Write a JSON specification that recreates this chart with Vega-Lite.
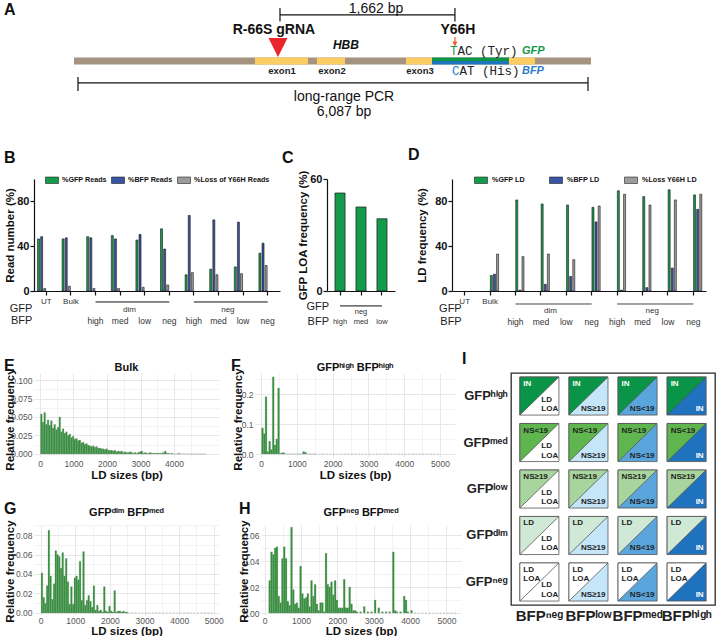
{
  "$schema": "https://vega.github.io/schema/vega-lite/v6.json",
  "background": "white",
  "padding": {"left": 3, "top": 0, "right": 0, "bottom": 0},
  "config": {
    "font": "Liberation Sans",
    "view": {"stroke": null},
    "title": {"anchor": "start", "frame": "group", "fontSize": 16, "fontWeight": "bold", "baseline": "bottom", "color": "#111"}
  },
  "datasets": {
    "gene": [
      {"part": "backbone", "bp": -48, "bp2": 6123},
      {"part": "exon", "bp": 2112, "bp2": 2745},
      {"part": "exon", "bp": 2852, "bp2": 3187},
      {"part": "exon", "bp": 3915, "bp2": 4225},
      {"part": "exon", "bp": 5144, "bp2": 5454}
    ],
    "reads": [
      {"grp": "UT", "series": "%GFP Reads", "pct": 46.5}, {"grp": "UT", "series": "%BFP Reads", "pct": 48.5}, {"grp": "UT", "series": "%Loss of Y66H Reads", "pct": 2.2},
      {"grp": "Bulk", "series": "%GFP Reads", "pct": 46.5}, {"grp": "Bulk", "series": "%BFP Reads", "pct": 47.5}, {"grp": "Bulk", "series": "%Loss of Y66H Reads", "pct": 4.3},
      {"grp": "dim-high", "series": "%GFP Reads", "pct": 48.5}, {"grp": "dim-high", "series": "%BFP Reads", "pct": 47.5}, {"grp": "dim-high", "series": "%Loss of Y66H Reads", "pct": 2.2},
      {"grp": "dim-med", "series": "%GFP Reads", "pct": 49.5}, {"grp": "dim-med", "series": "%BFP Reads", "pct": 46.5}, {"grp": "dim-med", "series": "%Loss of Y66H Reads", "pct": 2.2},
      {"grp": "dim-low", "series": "%GFP Reads", "pct": 45.5}, {"grp": "dim-low", "series": "%BFP Reads", "pct": 50.5}, {"grp": "dim-low", "series": "%Loss of Y66H Reads", "pct": 3.3},
      {"grp": "dim-neg", "series": "%GFP Reads", "pct": 55.5}, {"grp": "dim-neg", "series": "%BFP Reads", "pct": 37.5}, {"grp": "dim-neg", "series": "%Loss of Y66H Reads", "pct": 5.4},
      {"grp": "neg-high", "series": "%GFP Reads", "pct": 14.5}, {"grp": "neg-high", "series": "%BFP Reads", "pct": 67.5}, {"grp": "neg-high", "series": "%Loss of Y66H Reads", "pct": 16.4},
      {"grp": "neg-med", "series": "%GFP Reads", "pct": 19.5}, {"grp": "neg-med", "series": "%BFP Reads", "pct": 63.5}, {"grp": "neg-med", "series": "%Loss of Y66H Reads", "pct": 14.5},
      {"grp": "neg-low", "series": "%GFP Reads", "pct": 21.5}, {"grp": "neg-low", "series": "%BFP Reads", "pct": 61.5}, {"grp": "neg-low", "series": "%Loss of Y66H Reads", "pct": 15.5},
      {"grp": "neg-neg", "series": "%GFP Reads", "pct": 33.8}, {"grp": "neg-neg", "series": "%BFP Reads", "pct": 42.7}, {"grp": "neg-neg", "series": "%Loss of Y66H Reads", "pct": 22.8}
    ],
    "ld": [
      {"grp": "Bulk", "series": "%GFP LD", "pct": 13.9}, {"grp": "Bulk", "series": "%BFP LD", "pct": 15}, {"grp": "Bulk", "series": "%Loss Y66H LD", "pct": 33},
      {"grp": "dim-high", "series": "%GFP LD", "pct": 81.3}, {"grp": "dim-high", "series": "%BFP LD", "pct": 0.8}, {"grp": "dim-high", "series": "%Loss Y66H LD", "pct": 30.7},
      {"grp": "dim-med", "series": "%GFP LD", "pct": 77.7}, {"grp": "dim-med", "series": "%BFP LD", "pct": 6}, {"grp": "dim-med", "series": "%Loss Y66H LD", "pct": 33},
      {"grp": "dim-low", "series": "%GFP LD", "pct": 76.8}, {"grp": "dim-low", "series": "%BFP LD", "pct": 13}, {"grp": "dim-low", "series": "%Loss Y66H LD", "pct": 28},
      {"grp": "dim-neg", "series": "%GFP LD", "pct": 74.7}, {"grp": "dim-neg", "series": "%BFP LD", "pct": 61.7}, {"grp": "dim-neg", "series": "%Loss Y66H LD", "pct": 75.9},
      {"grp": "neg-high", "series": "%GFP LD", "pct": 89.5}, {"grp": "neg-high", "series": "%BFP LD", "pct": 0.8}, {"grp": "neg-high", "series": "%Loss Y66H LD", "pct": 86.4},
      {"grp": "neg-med", "series": "%GFP LD", "pct": 84.3}, {"grp": "neg-med", "series": "%BFP LD", "pct": 3}, {"grp": "neg-med", "series": "%Loss Y66H LD", "pct": 76.8},
      {"grp": "neg-low", "series": "%GFP LD", "pct": 90.4}, {"grp": "neg-low", "series": "%BFP LD", "pct": 20.5}, {"grp": "neg-low", "series": "%Loss Y66H LD", "pct": 81.3},
      {"grp": "neg-neg", "series": "%GFP LD", "pct": 85.8}, {"grp": "neg-neg", "series": "%BFP LD", "pct": 72.9}, {"grp": "neg-neg", "series": "%Loss Y66H LD", "pct": 86.4}
    ],
    "loa": [
      {"bfp": "high", "pct": 52.5}, {"bfp": "med", "pct": 45}, {"bfp": "low", "pct": 38.7}
    ],
    "bfpRow": [
      {"grp": "dim-high", "t": "high"}, {"grp": "dim-med", "t": "med"}, {"grp": "dim-low", "t": "low"}, {"grp": "dim-neg", "t": "neg"},
      {"grp": "neg-high", "t": "high"}, {"grp": "neg-med", "t": "med"}, {"grp": "neg-low", "t": "low"}, {"grp": "neg-neg", "t": "neg"}
    ],
    "gfpSpan": [
      {"a": "dim-high", "b": "dim-neg"}, {"a": "neg-high", "b": "neg-neg"}
    ],
    "gfpName": [
      {"grp": "dim-med", "t": "dim"}, {"grp": "neg-med", "t": "neg"}
    ],
    "bulk": [
      {"bp": 0, "f": 0.054}, {"bp": 50, "f": 0.043}, {"bp": 100, "f": 0.056}, {"bp": 150, "f": 0.040}, {"bp": 200, "f": 0.046},
      {"bp": 250, "f": 0.039}, {"bp": 300, "f": 0.045}, {"bp": 350, "f": 0.035}, {"bp": 400, "f": 0.040}, {"bp": 450, "f": 0.033},
      {"bp": 500, "f": 0.036}, {"bp": 550, "f": 0.050}, {"bp": 600, "f": 0.030}, {"bp": 650, "f": 0.034}, {"bp": 700, "f": 0.028},
      {"bp": 750, "f": 0.030}, {"bp": 800, "f": 0.025}, {"bp": 850, "f": 0.027}, {"bp": 900, "f": 0.022}, {"bp": 950, "f": 0.024},
      {"bp": 1000, "f": 0.020}, {"bp": 1050, "f": 0.021}, {"bp": 1100, "f": 0.018}, {"bp": 1150, "f": 0.019}, {"bp": 1200, "f": 0.015},
      {"bp": 1250, "f": 0.016}, {"bp": 1300, "f": 0.013}, {"bp": 1350, "f": 0.014}, {"bp": 1400, "f": 0.012}, {"bp": 1450, "f": 0.011},
      {"bp": 1500, "f": 0.010}, {"bp": 1550, "f": 0.011}, {"bp": 1600, "f": 0.009}, {"bp": 1650, "f": 0.010}, {"bp": 1700, "f": 0.008},
      {"bp": 1750, "f": 0.008}, {"bp": 1800, "f": 0.007}, {"bp": 1850, "f": 0.007}, {"bp": 1900, "f": 0.006}, {"bp": 1950, "f": 0.007},
      {"bp": 2000, "f": 0.005}, {"bp": 2050, "f": 0.005}, {"bp": 2100, "f": 0.005}, {"bp": 2150, "f": 0.004}, {"bp": 2200, "f": 0.005},
      {"bp": 2250, "f": 0.003}, {"bp": 2300, "f": 0.004}, {"bp": 2350, "f": 0.003}, {"bp": 2400, "f": 0.004}, {"bp": 2450, "f": 0.002},
      {"bp": 2500, "f": 0.003}, {"bp": 2550, "f": 0.002}, {"bp": 2600, "f": 0.002}, {"bp": 2650, "f": 0.003}, {"bp": 2700, "f": 0.002},
      {"bp": 2750, "f": 0.001}, {"bp": 2800, "f": 0.002}, {"bp": 2850, "f": 0.001}, {"bp": 2900, "f": 0.002}, {"bp": 2950, "f": 0.003},
      {"bp": 3000, "f": 0.004}, {"bp": 3050, "f": 0.001}, {"bp": 3100, "f": 0.002}, {"bp": 3150, "f": 0.001}, {"bp": 3200, "f": 0.001},
      {"bp": 3250, "f": 0.002}, {"bp": 3300, "f": 0.001}, {"bp": 3350, "f": 0.001}, {"bp": 3400, "f": 0.001}, {"bp": 3450, "f": 0.001},
      {"bp": 3500, "f": 0.001}, {"bp": 3550, "f": 0.001}, {"bp": 3600, "f": 0.001}, {"bp": 3650, "f": 0.002}, {"bp": 3700, "f": 0.004},
      {"bp": 3750, "f": 0.001}, {"bp": 3800, "f": 0.001}, {"bp": 3850, "f": 0}, {"bp": 3900, "f": 0.001}, {"bp": 3950, "f": 0},
      {"bp": 4000, "f": 0}, {"bp": 4050, "f": 0}, {"bp": 4100, "f": 0.001}, {"bp": 4150, "f": 0}, {"bp": 4200, "f": 0},
      {"bp": 4250, "f": 0}, {"bp": 4300, "f": 0}, {"bp": 4350, "f": 0}, {"bp": 4400, "f": 0}, {"bp": 4450, "f": 0},
      {"bp": 4500, "f": 0}, {"bp": 4550, "f": 0}, {"bp": 4600, "f": 0}, {"bp": 4650, "f": 0}, {"bp": 4700, "f": 0},
      {"bp": 4750, "f": 0}, {"bp": 4800, "f": 0}, {"bp": 4850, "f": 0}, {"bp": 4900, "f": 0}
    ],
    "hh": [
      {"bp": 0, "f": 0.087}, {"bp": 50, "f": 0.068}, {"bp": 100, "f": 0.191}, {"bp": 150, "f": 0.008}, {"bp": 200, "f": 0.043},
      {"bp": 250, "f": 0.015}, {"bp": 300, "f": 0.257}, {"bp": 350, "f": 0.030}, {"bp": 400, "f": 0.050}, {"bp": 450, "f": 0.220},
      {"bp": 500, "f": 0.002}, {"bp": 550, "f": 0.004}, {"bp": 600, "f": 0.004}, {"bp": 650, "f": 0}, {"bp": 700, "f": 0},
      {"bp": 750, "f": 0}, {"bp": 800, "f": 0}, {"bp": 850, "f": 0}, {"bp": 900, "f": 0}, {"bp": 950, "f": 0},
      {"bp": 1000, "f": 0}, {"bp": 1050, "f": 0}, {"bp": 1100, "f": 0}, {"bp": 1150, "f": 0.008}, {"bp": 1200, "f": 0.006},
      {"bp": 1250, "f": 0}, {"bp": 1300, "f": 0}, {"bp": 1350, "f": 0}, {"bp": 1400, "f": 0}, {"bp": 1450, "f": 0},
      {"bp": 1500, "f": 0}, {"bp": 1600, "f": 0}, {"bp": 1700, "f": 0}, {"bp": 1800, "f": 0}, {"bp": 1900, "f": 0},
      {"bp": 2000, "f": 0}, {"bp": 2100, "f": 0}, {"bp": 2200, "f": 0}, {"bp": 2300, "f": 0}, {"bp": 2400, "f": 0},
      {"bp": 2500, "f": 0}, {"bp": 2600, "f": 0}, {"bp": 2700, "f": 0}, {"bp": 2800, "f": 0}, {"bp": 2900, "f": 0},
      {"bp": 3000, "f": 0}, {"bp": 3100, "f": 0}, {"bp": 3200, "f": 0}, {"bp": 3300, "f": 0}, {"bp": 3400, "f": 0},
      {"bp": 3500, "f": 0}, {"bp": 3600, "f": 0}, {"bp": 3700, "f": 0}, {"bp": 3800, "f": 0}, {"bp": 3900, "f": 0},
      {"bp": 4000, "f": 0}, {"bp": 4100, "f": 0}, {"bp": 4200, "f": 0}, {"bp": 4300, "f": 0}, {"bp": 4400, "f": 0},
      {"bp": 4500, "f": 0}, {"bp": 4600, "f": 0}, {"bp": 4700, "f": 0}, {"bp": 4800, "f": 0}, {"bp": 4900, "f": 0}
    ],
    "dm": [
      {"bp": 0, "f": 0.041}, {"bp": 50, "f": 0.016}, {"bp": 100, "f": 0.010}, {"bp": 150, "f": 0.028}, {"bp": 200, "f": 0.085},
      {"bp": 250, "f": 0.038}, {"bp": 300, "f": 0.014}, {"bp": 350, "f": 0.030}, {"bp": 400, "f": 0.064}, {"bp": 450, "f": 0.060},
      {"bp": 500, "f": 0.058}, {"bp": 550, "f": 0.046}, {"bp": 600, "f": 0.062}, {"bp": 650, "f": 0.038}, {"bp": 700, "f": 0.056},
      {"bp": 750, "f": 0.032}, {"bp": 800, "f": 0.009}, {"bp": 850, "f": 0.027}, {"bp": 900, "f": 0.009}, {"bp": 950, "f": 0.036},
      {"bp": 1000, "f": 0.038}, {"bp": 1050, "f": 0.034}, {"bp": 1100, "f": 0.053}, {"bp": 1150, "f": 0.013}, {"bp": 1200, "f": 0.063},
      {"bp": 1250, "f": 0.008}, {"bp": 1300, "f": 0.013}, {"bp": 1350, "f": 0.018}, {"bp": 1400, "f": 0.012}, {"bp": 1450, "f": 0.006},
      {"bp": 1500, "f": 0.028}, {"bp": 1550, "f": 0.003}, {"bp": 1600, "f": 0.008}, {"bp": 1650, "f": 0.002}, {"bp": 1700, "f": 0.003},
      {"bp": 1750, "f": 0.001}, {"bp": 1800, "f": 0.027}, {"bp": 1850, "f": 0.002}, {"bp": 1900, "f": 0.001}, {"bp": 1950, "f": 0.007},
      {"bp": 2000, "f": 0.002}, {"bp": 2050, "f": 0.001}, {"bp": 2100, "f": 0.023}, {"bp": 2150, "f": 0.001}, {"bp": 2200, "f": 0.002},
      {"bp": 2250, "f": 0.002}, {"bp": 2300, "f": 0.001}, {"bp": 2350, "f": 0.002}, {"bp": 2400, "f": 0.001}, {"bp": 2450, "f": 0.001},
      {"bp": 2500, "f": 0}, {"bp": 2600, "f": 0}, {"bp": 2700, "f": 0}, {"bp": 2800, "f": 0}, {"bp": 2900, "f": 0},
      {"bp": 3000, "f": 0}, {"bp": 3100, "f": 0}, {"bp": 3200, "f": 0}, {"bp": 3300, "f": 0}, {"bp": 3400, "f": 0},
      {"bp": 3500, "f": 0}, {"bp": 3600, "f": 0}, {"bp": 3700, "f": 0}, {"bp": 3800, "f": 0}, {"bp": 3900, "f": 0},
      {"bp": 4000, "f": 0}, {"bp": 4100, "f": 0}, {"bp": 4200, "f": 0}, {"bp": 4300, "f": 0}, {"bp": 4400, "f": 0},
      {"bp": 4500, "f": 0}, {"bp": 4600, "f": 0}, {"bp": 4700, "f": 0}, {"bp": 4800, "f": 0}, {"bp": 4900, "f": 0}
    ],
    "nm": [
      {"bp": 100, "f": 0.025}, {"bp": 150, "f": 0.047}, {"bp": 200, "f": 0.045}, {"bp": 250, "f": 0.050}, {"bp": 300, "f": 0.051},
      {"bp": 350, "f": 0.013}, {"bp": 400, "f": 0.008}, {"bp": 450, "f": 0.042}, {"bp": 500, "f": 0.051}, {"bp": 550, "f": 0.042},
      {"bp": 600, "f": 0.009}, {"bp": 650, "f": 0.006}, {"bp": 700, "f": 0.066}, {"bp": 750, "f": 0.018}, {"bp": 800, "f": 0.007},
      {"bp": 850, "f": 0.008}, {"bp": 900, "f": 0.004}, {"bp": 950, "f": 0.036}, {"bp": 1000, "f": 0.015}, {"bp": 1050, "f": 0.011},
      {"bp": 1100, "f": 0.012}, {"bp": 1150, "f": 0.015}, {"bp": 1200, "f": 0.005}, {"bp": 1250, "f": 0.025}, {"bp": 1300, "f": 0.013},
      {"bp": 1350, "f": 0.022}, {"bp": 1400, "f": 0.007}, {"bp": 1450, "f": 0.002}, {"bp": 1500, "f": 0.008}, {"bp": 1550, "f": 0.008},
      {"bp": 1600, "f": 0.001}, {"bp": 1650, "f": 0.046}, {"bp": 1700, "f": 0.022}, {"bp": 1750, "f": 0.020}, {"bp": 1800, "f": 0.024},
      {"bp": 1850, "f": 0.014}, {"bp": 1900, "f": 0.025}, {"bp": 1950, "f": 0.010}, {"bp": 2000, "f": 0.004}, {"bp": 2050, "f": 0.004},
      {"bp": 2100, "f": 0.004}, {"bp": 2150, "f": 0.026}, {"bp": 2200, "f": 0.004}, {"bp": 2250, "f": 0.004}, {"bp": 2300, "f": 0.020},
      {"bp": 2350, "f": 0.007}, {"bp": 2400, "f": 0.002}, {"bp": 2450, "f": 0.002}, {"bp": 2500, "f": 0.001}, {"bp": 2600, "f": 0.001},
      {"bp": 2700, "f": 0.005}, {"bp": 2800, "f": 0.001}, {"bp": 2900, "f": 0.001}, {"bp": 3000, "f": 0.010}, {"bp": 3100, "f": 0.004},
      {"bp": 3200, "f": 0.001}, {"bp": 3300, "f": 0.001}, {"bp": 3400, "f": 0.001}, {"bp": 3500, "f": 0.047}, {"bp": 3550, "f": 0.002},
      {"bp": 3600, "f": 0.001}, {"bp": 3700, "f": 0.001}, {"bp": 3800, "f": 0.013}, {"bp": 3850, "f": 0.010}, {"bp": 3900, "f": 0.001},
      {"bp": 4000, "f": 0.002}, {"bp": 4100, "f": 0}, {"bp": 4200, "f": 0}, {"bp": 4300, "f": 0}, {"bp": 4400, "f": 0},
      {"bp": 4500, "f": 0}, {"bp": 4600, "f": 0}, {"bp": 4700, "f": 0}, {"bp": 4800, "f": 0}, {"bp": 4900, "f": 0},
      {"bp": 5000, "f": 0}, {"bp": 5100, "f": 0}, {"bp": 5200, "f": 0}
    ],
    "grid": [
      {"row": "GFPʰⁱᵍʰ", "col": "BFPⁿᵉᵍ", "tl": "IN", "br": "LD\nLOA"},
      {"row": "GFPʰⁱᵍʰ", "col": "BFPˡᵒʷ", "tl": "IN", "br": "NS≥19"},
      {"row": "GFPʰⁱᵍʰ", "col": "BFPᵐᵉᵈ", "tl": "IN", "br": "NS<19"},
      {"row": "GFPʰⁱᵍʰ", "col": "BFPʰⁱᵍʰ", "tl": "IN", "br": "IN"},
      {"row": "GFPᵐᵉᵈ", "col": "BFPⁿᵉᵍ", "tl": "NS<19", "br": "LD\nLOA"},
      {"row": "GFPᵐᵉᵈ", "col": "BFPˡᵒʷ", "tl": "NS<19", "br": "NS≥19"},
      {"row": "GFPᵐᵉᵈ", "col": "BFPᵐᵉᵈ", "tl": "NS<19", "br": "NS<19"},
      {"row": "GFPᵐᵉᵈ", "col": "BFPʰⁱᵍʰ", "tl": "NS<19", "br": "IN"},
      {"row": "GFPˡᵒʷ", "col": "BFPⁿᵉᵍ", "tl": "NS≥19", "br": "LD\nLOA"},
      {"row": "GFPˡᵒʷ", "col": "BFPˡᵒʷ", "tl": "NS≥19", "br": "NS≥19"},
      {"row": "GFPˡᵒʷ", "col": "BFPᵐᵉᵈ", "tl": "NS≥19", "br": "NS<19"},
      {"row": "GFPˡᵒʷ", "col": "BFPʰⁱᵍʰ", "tl": "NS≥19", "br": "IN"},
      {"row": "GFPᵈⁱᵐ", "col": "BFPⁿᵉᵍ", "tl": "LD", "br": "LD\nLOA"},
      {"row": "GFPᵈⁱᵐ", "col": "BFPˡᵒʷ", "tl": "LD", "br": "NS≥19"},
      {"row": "GFPᵈⁱᵐ", "col": "BFPᵐᵉᵈ", "tl": "LD", "br": "NS<19"},
      {"row": "GFPᵈⁱᵐ", "col": "BFPʰⁱᵍʰ", "tl": "LD", "br": "IN"},
      {"row": "GFPⁿᵉᵍ", "col": "BFPⁿᵉᵍ", "tl": "LD\nLOA", "br": "LD\nLOA"},
      {"row": "GFPⁿᵉᵍ", "col": "BFPˡᵒʷ", "tl": "LD\nLOA", "br": "NS≥19"},
      {"row": "GFPⁿᵉᵍ", "col": "BFPᵐᵉᵈ", "tl": "LD\nLOA", "br": "NS<19"},
      {"row": "GFPⁿᵉᵍ", "col": "BFPʰⁱᵍʰ", "tl": "LD\nLOA", "br": "IN"}
    ]
  },
  "resolve": {"scale": {"color": "independent", "fill": "independent"}},
  "spacing": 22,
  "vconcat": [
    {
      "resolve": {"scale": {"color": "independent", "fill": "independent"}},
      "spacing": 25,
      "vconcat": [
        {
          "width": 557,
          "height": 122,
          "title": {"text": "A", "dx": -30, "offset": -18},
          "layer": [
            {
              "data": {"name": "gene"},
              "mark": {"type": "rect"},
              "encoding": {
                "x": {"field": "bp", "type": "quantitative", "scale": {"domain": [-525, 6123], "nice": false, "zero": false}, "axis": null},
                "x2": {"field": "bp2"},
                "y": {"datum": 0.19, "type": "quantitative", "scale": {"domain": [-3.389, 3.389], "nice": false, "zero": false}, "axis": null},
                "y2": {"datum": -0.19},
                "color": {"field": "part", "type": "nominal", "scale": {"domain": ["backbone", "exon"], "range": ["#a39380", "#fccd63"]}, "legend": null}
              }
            },
            {
              "data": {"values": [{"bp": 4225, "bp2": 5144}]},
              "mark": {"type": "rect", "color": "#0d9448"},
              "encoding": {
                "x": {"field": "bp", "type": "quantitative"},
                "x2": {"field": "bp2"},
                "y": {"datum": 0.19, "type": "quantitative"},
                "y2": {"datum": 0}
              }
            },
            {
              "data": {"values": [{"bp": 4225, "bp2": 5144}]},
              "mark": {"type": "rect", "color": "#1d75bc"},
              "encoding": {
                "x": {"field": "bp", "type": "quantitative"},
                "x2": {"field": "bp2"},
                "y": {"datum": 0, "type": "quantitative"},
                "y2": {"datum": -0.19}
              }
            },
            {
              "data": {"values": [{"bp": 2411, "bp2": 4499, "lane": 2.56}, {"bp": 0, "bp2": 6087, "lane": -1.22}]},
              "mark": {"type": "rule", "color": "#111", "strokeWidth": 1.2},
              "encoding": {
                "x": {"field": "bp", "type": "quantitative"},
                "x2": {"field": "bp2"},
                "y": {"field": "lane", "type": "quantitative"}
              }
            },
            {
              "data": {"values": [
                {"bp": 2411, "lane": 2.94, "lane2": 2.2}, {"bp": 4499, "lane": 2.94, "lane2": 2.2},
                {"bp": 0, "lane": -0.89, "lane2": -1.67}, {"bp": 6087, "lane": -0.89, "lane2": -1.67}
              ]},
              "mark": {"type": "rule", "color": "#111", "strokeWidth": 1.2},
              "encoding": {
                "x": {"field": "bp", "type": "quantitative"},
                "y": {"field": "lane", "type": "quantitative"},
                "y2": {"field": "lane2"}
              }
            },
            {
              "data": {"values": [{"bp": 2387, "lane": 0.75}]},
              "mark": {"type": "point", "shape": "M-1,-1L1,-1L0,1Z", "size": 361, "filled": true, "color": "#e8262b", "opacity": 1},
              "encoding": {
                "x": {"field": "bp", "type": "quantitative"},
                "y": {"field": "lane", "type": "quantitative"}
              }
            },
            {
              "data": {"values": [{"bp": 4499, "lane": 1.33, "lane2": 1.0}]},
              "mark": {"type": "rule", "color": "#f05a28", "strokeWidth": 1.2},
              "encoding": {
                "x": {"field": "bp", "type": "quantitative"},
                "y": {"field": "lane", "type": "quantitative"},
                "y2": {"field": "lane2"}
              }
            },
            {
              "data": {"values": [{"bp": 4499, "lane": 0.94}]},
              "mark": {"type": "point", "shape": "M-1,-1L1,-1L0,1Z", "size": 25, "filled": true, "color": "#f05a28", "opacity": 1},
              "encoding": {
                "x": {"field": "bp", "type": "quantitative"},
                "y": {"field": "lane", "type": "quantitative"}
              }
            },
            {
              "data": {"values": [{"label": "1,662 bp", "bp": 3557, "lane": 2.9}, {"label": "long-range PCR", "bp": 3175, "lane": -2.0}, {"label": "6,087 bp", "bp": 3175, "lane": -2.83}]},
              "mark": {"type": "text", "fontSize": 14, "baseline": "middle", "color": "#111"},
              "encoding": {
                "x": {"field": "bp", "type": "quantitative"},
                "y": {"field": "lane", "type": "quantitative"},
                "text": {"field": "label"}
              }
            },
            {
              "data": {"values": [{"label": "R-66S gRNA", "bp": 2339, "lane": 1.72}, {"label": "Y66H", "bp": 4535, "lane": 1.72}]},
              "mark": {"type": "text", "fontSize": 14, "fontWeight": "bold", "baseline": "middle", "color": "#111"},
              "encoding": {
                "x": {"field": "bp", "type": "quantitative"},
                "y": {"field": "lane", "type": "quantitative"},
                "text": {"field": "label"}
              }
            },
            {
              "data": {"values": [{"label": "HBB", "bp": 3198, "lane": 0.89}]},
              "mark": {"type": "text", "fontSize": 12, "fontWeight": "bold", "fontStyle": "italic", "baseline": "middle", "color": "#111"},
              "encoding": {
                "x": {"field": "bp", "type": "quantitative"},
                "y": {"field": "lane", "type": "quantitative"},
                "text": {"field": "label"}
              }
            },
            {
              "data": {"values": [{"label": "exon1", "bp": 2435, "lane": -0.56}, {"label": "exon2", "bp": 3031, "lane": -0.56}, {"label": "exon3", "bp": 4082, "lane": -0.56}]},
              "mark": {"type": "text", "fontSize": 9.5, "fontWeight": "bold", "baseline": "middle", "color": "#222"},
              "encoding": {
                "x": {"field": "bp", "type": "quantitative"},
                "y": {"field": "lane", "type": "quantitative"},
                "text": {"field": "label"}
              }
            },
            {
              "data": {"values": [{"label": "AC (Tyr)", "bp": 4440, "lane": 0.56}, {"label": "AT (His)", "bp": 4464, "lane": -0.56}]},
              "mark": {"type": "text", "font": "Liberation Mono", "fontSize": 12.5, "align": "left", "baseline": "middle", "color": "#222", "dx": 7.5},
              "encoding": {
                "x": {"field": "bp", "type": "quantitative"},
                "y": {"field": "lane", "type": "quantitative"},
                "text": {"field": "label"}
              }
            },
            {
              "data": {"values": [{"label": "T", "bp": 4440, "lane": 0.56}]},
              "mark": {"type": "text", "font": "Liberation Mono", "fontSize": 12.5, "align": "left", "baseline": "middle", "color": "#1a9850"},
              "encoding": {
                "x": {"field": "bp", "type": "quantitative"},
                "y": {"field": "lane", "type": "quantitative"},
                "text": {"field": "label"}
              }
            },
            {
              "data": {"values": [{"label": "C", "bp": 4464, "lane": -0.56}]},
              "mark": {"type": "text", "font": "Liberation Mono", "fontSize": 12.5, "align": "left", "baseline": "middle", "color": "#2b7ccb"},
              "encoding": {
                "x": {"field": "bp", "type": "quantitative"},
                "y": {"field": "lane", "type": "quantitative"},
                "text": {"field": "label"}
              }
            },
            {
              "data": {"values": [{"label": "GFP", "bp": 5299, "lane": 0.56}]},
              "mark": {"type": "text", "fontSize": 11, "fontWeight": "bold", "fontStyle": "italic", "align": "left", "baseline": "middle", "color": "#12964a"},
              "encoding": {
                "x": {"field": "bp", "type": "quantitative"},
                "y": {"field": "lane", "type": "quantitative"},
                "text": {"field": "label"}
              }
            },
            {
              "data": {"values": [{"label": "BFP", "bp": 5299, "lane": -0.56}]},
              "mark": {"type": "text", "fontSize": 11, "fontWeight": "bold", "fontStyle": "italic", "align": "left", "baseline": "middle", "color": "#2b7ccb"},
              "encoding": {
                "x": {"field": "bp", "type": "quantitative"},
                "y": {"field": "lane", "type": "quantitative"},
                "text": {"field": "label"}
              }
            }
          ]
        },
        {
          "resolve": {"scale": {"color": "independent", "fill": "independent"}},
          "spacing": 13,
          "hconcat": [
            {
              "resolve": {"scale": {"color": "independent", "fill": "independent"}},
              "spacing": 2,
              "hconcat": [
                {
                  "width": 246,
                  "height": 112,
                  "title": {"text": "B", "dx": -30, "offset": 7},
                  "layer": [
                    {
                      "data": {"name": "reads"},
                      "mark": {"type": "bar", "stroke": "#1a1a1a", "strokeWidth": 0.6},
                      "encoding": {
                        "x": {"field": "grp", "type": "nominal", "sort": null,
                              "scale": {"domain": ["UT", "Bulk", "dim-high", "dim-med", "dim-low", "dim-neg", "neg-high", "neg-med", "neg-low", "neg-neg"], "paddingInner": 0.24, "paddingOuter": 0.12},
                              "axis": {"title": null, "labelExpr": "datum.value == 'UT' || datum.value == 'Bulk' ? datum.value : ''", "labelAngle": 0, "labelFontSize": 8, "labelColor": "#333", "labelPadding": 2, "tickSize": 4, "tickWidth": 1.2, "tickColor": "#111", "domainColor": "#111", "domainWidth": 1.2}},
                        "xOffset": {"field": "series", "type": "nominal", "sort": null, "scale": {"domain": ["%GFP Reads", "%BFP Reads", "%Loss of Y66H Reads"], "paddingInner": 0.355, "paddingOuter": 0.18}},
                        "y": {"field": "pct", "type": "quantitative", "scale": {"domain": [0, 100], "nice": false},
                              "axis": {"values": [0, 20, 40, 60, 80, 100], "title": "Read number (%)", "titleX": -24, "titleY": 56, "titleBaseline": "middle", "titleFontSize": 11.5, "titleFontWeight": "bold", "titleColor": "#111", "labelFontSize": 11, "labelFontWeight": "bold", "labelColor": "#111", "labelPadding": 1, "tickSize": 4, "tickWidth": 1.2, "tickColor": "#111", "domainColor": "#111", "domainWidth": 1.2, "grid": false}},
                        "color": {"field": "series", "type": "nominal", "scale": {"domain": ["%GFP Reads", "%BFP Reads", "%Loss of Y66H Reads"], "range": ["#139a4a", "#3a53a4", "#9c9c9c"]},
                                  "legend": {"orient": "none", "legendX": 11, "legendY": -6, "direction": "horizontal", "title": null, "labelFontSize": 7.2, "labelFontWeight": "bold", "labelColor": "#111", "symbolType": "M-1,-0.5H1V0.5H-1Z", "symbolSize": 169, "symbolStrokeColor": "#222", "symbolStrokeWidth": 0.6, "columnPadding": 3, "labelOffset": 3, "padding": 0}}
                      }
                    },
                    {
                      "data": {"name": "bfpRow"},
                      "mark": {"type": "text", "fontSize": 8.5, "baseline": "middle", "color": "#333"},
                      "encoding": {"x": {"field": "grp", "type": "nominal"}, "y": {"datum": -26.8}, "text": {"field": "t"}}
                    },
                    {
                      "data": {"name": "gfpSpan"},
                      "mark": {"type": "rule", "color": "#111", "strokeWidth": 1},
                      "encoding": {"x": {"field": "a", "type": "nominal"}, "x2": {"field": "b"}, "y": {"datum": -9.8}}
                    },
                    {
                      "data": {"name": "gfpName"},
                      "mark": {"type": "text", "fontSize": 8, "baseline": "middle", "color": "#333"},
                      "encoding": {"x": {"field": "grp", "type": "nominal", "bandPosition": 1}, "y": {"datum": -17}, "text": {"field": "t"}}
                    },
                    {
                      "data": {"values": [{"t": "GFP"}]},
                      "mark": {"type": "text", "fontSize": 11, "align": "right", "baseline": "middle", "color": "#222", "dx": -14},
                      "encoding": {"x": {"datum": "UT"}, "y": {"datum": -16}, "text": {"field": "t"}}
                    },
                    {
                      "data": {"values": [{"t": "BFP"}]},
                      "mark": {"type": "text", "fontSize": 11, "align": "right", "baseline": "middle", "color": "#222", "dx": -14},
                      "encoding": {"x": {"datum": "UT"}, "y": {"datum": -27}, "text": {"field": "t"}}
                    }
                  ]
                },
                {
                  "width": 68,
                  "height": 112,
                  "title": {"text": "C", "dx": -45, "offset": 3.4},
                  "layer": [
                    {
                      "data": {"name": "loa"},
                      "mark": {"type": "bar", "color": "#139a4a", "stroke": "#1a1a1a", "strokeWidth": 0.7},
                      "encoding": {
                        "x": {"field": "bfp", "type": "nominal", "sort": null, "scale": {"domain": ["high", "med", "low"], "paddingInner": 0.52, "paddingOuter": 0.38},
                              "axis": {"title": null, "labels": false, "tickSize": 4, "tickWidth": 1.2, "tickColor": "#111", "domainColor": "#111", "domainWidth": 1.2}},
                        "y": {"field": "pct", "type": "quantitative", "scale": {"domain": [0, 60], "nice": false},
                              "axis": {"values": [0, 20, 40, 60], "title": "GFP LOA frequency (%)", "titleX": -24, "titleY": 56, "titleBaseline": "middle", "titleFontSize": 11.5, "titleFontWeight": "bold", "titleColor": "#111", "labelFontSize": 11, "labelFontWeight": "bold", "labelColor": "#111", "labelPadding": 1, "tickSize": 4, "tickWidth": 1.2, "tickColor": "#111", "domainColor": "#111", "domainWidth": 1.2, "grid": false}}
                      }
                    },
                    {
                      "data": {"name": "loa"},
                      "mark": {"type": "text", "fontSize": 7.5, "baseline": "middle", "color": "#333"},
                      "encoding": {"x": {"field": "bfp", "type": "nominal"}, "y": {"datum": -16.6}, "text": {"field": "bfp"}}
                    },
                    {
                      "data": {"values": [{"a": "high", "b": "low"}]},
                      "mark": {"type": "rule", "color": "#111", "strokeWidth": 1},
                      "encoding": {"x": {"field": "a", "type": "nominal"}, "x2": {"field": "b"}, "y": {"datum": -8}}
                    },
                    {
                      "data": {"values": [{"bfp": "med", "t": "neg"}]},
                      "mark": {"type": "text", "fontSize": 7.5, "baseline": "middle", "color": "#333"},
                      "encoding": {"x": {"field": "bfp", "type": "nominal"}, "y": {"datum": -11.5}, "text": {"field": "t"}}
                    },
                    {
                      "data": {"values": [{"t": "GFP"}]},
                      "mark": {"type": "text", "fontSize": 11, "align": "right", "baseline": "middle", "color": "#222", "dx": -11},
                      "encoding": {"x": {"datum": "high"}, "y": {"datum": -8.6}, "text": {"field": "t"}}
                    },
                    {
                      "data": {"values": [{"t": "BFP"}]},
                      "mark": {"type": "text", "fontSize": 11, "align": "right", "baseline": "middle", "color": "#222", "dx": -11},
                      "encoding": {"x": {"datum": "high"}, "y": {"datum": -16.6}, "text": {"field": "t"}}
                    }
                  ]
                }
              ]
            },
            {
              "width": 254,
              "height": 112,
              "title": {"text": "D", "dx": -44, "offset": 10},
              "layer": [
                {
                  "data": {"name": "ld"},
                  "mark": {"type": "bar", "stroke": "#1a1a1a", "strokeWidth": 0.6},
                  "encoding": {
                    "x": {"field": "grp", "type": "nominal", "sort": null,
                          "scale": {"domain": ["UT", "Bulk", "dim-high", "dim-med", "dim-low", "dim-neg", "neg-high", "neg-med", "neg-low", "neg-neg"], "paddingInner": 0.24, "paddingOuter": 0.12},
                          "axis": {"title": null, "labelExpr": "datum.value == 'UT' || datum.value == 'Bulk' ? datum.value : ''", "labelAngle": 0, "labelFontSize": 8, "labelColor": "#333", "labelPadding": 2, "tickSize": 4, "tickWidth": 1.2, "tickColor": "#111", "domainColor": "#111", "domainWidth": 1.2}},
                    "xOffset": {"field": "series", "type": "nominal", "sort": null, "scale": {"domain": ["%GFP LD", "%BFP LD", "%Loss Y66H LD"], "paddingInner": 0.355, "paddingOuter": 0.18}},
                    "y": {"field": "pct", "type": "quantitative", "scale": {"domain": [0, 100], "nice": false},
                          "axis": {"values": [0, 20, 40, 60, 80, 100], "title": "LD frequency (%)", "titleX": -30, "titleY": 56, "titleBaseline": "middle", "titleFontSize": 11.5, "titleFontWeight": "bold", "titleColor": "#111", "labelFontSize": 11, "labelFontWeight": "bold", "labelColor": "#111", "labelPadding": 1, "tickSize": 4, "tickWidth": 1.2, "tickColor": "#111", "domainColor": "#111", "domainWidth": 1.2, "grid": false}},
                    "color": {"field": "series", "type": "nominal", "scale": {"domain": ["%GFP LD", "%BFP LD", "%Loss Y66H LD"], "range": ["#139a4a", "#3a53a4", "#9c9c9c"]},
                              "legend": {"orient": "none", "legendX": 22, "legendY": -6, "direction": "horizontal", "title": null, "labelFontSize": 7.2, "labelFontWeight": "bold", "labelColor": "#111", "symbolType": "M-1,-0.5H1V0.5H-1Z", "symbolSize": 169, "symbolStrokeColor": "#222", "symbolStrokeWidth": 0.6, "columnPadding": 23, "labelOffset": 4, "padding": 0}}
                  }
                },
                {
                  "data": {"name": "bfpRow"},
                  "mark": {"type": "text", "fontSize": 8.5, "baseline": "middle", "color": "#333"},
                  "encoding": {"x": {"field": "grp", "type": "nominal"}, "y": {"datum": -27.7}, "text": {"field": "t"}}
                },
                {
                  "data": {"name": "gfpSpan"},
                  "mark": {"type": "rule", "color": "#444", "strokeWidth": 1},
                  "encoding": {"x": {"field": "a", "type": "nominal"}, "x2": {"field": "b"}, "y": {"datum": -11.6}}
                },
                {
                  "data": {"name": "gfpName"},
                  "mark": {"type": "text", "fontSize": 8, "baseline": "middle", "color": "#333"},
                  "encoding": {"x": {"field": "grp", "type": "nominal", "bandPosition": 1}, "y": {"datum": -17.9}, "text": {"field": "t"}}
                },
                {
                  "data": {"values": [{"t": "GFP"}]},
                  "mark": {"type": "text", "fontSize": 11, "align": "right", "baseline": "middle", "color": "#222", "dx": -3},
                  "encoding": {"x": {"datum": "UT"}, "y": {"datum": -16}, "text": {"field": "t"}}
                },
                {
                  "data": {"values": [{"t": "BFP"}]},
                  "mark": {"type": "text", "fontSize": 11, "align": "right", "baseline": "middle", "color": "#222", "dx": -3},
                  "encoding": {"x": {"datum": "UT"}, "y": {"datum": -27.7}, "text": {"field": "t"}}
                }
              ]
            }
          ]
        }
      ]
    },
    {
      "resolve": {"scale": {"color": "independent", "fill": "independent"}},
      "spacing": 0,
      "hconcat": [
        {
          "spacing": 20,
          "vconcat": [
            {
              "spacing": 12,
              "hconcat": [
                {
                  "title": {"text": "E", "dx": -30, "offset": -11.85},
                  "vconcat": [
                    {
                      "width": 185,
                      "height": 84,
                      "title": {"text": "Bulk", "anchor": "middle", "fontSize": 11, "fontWeight": "bold", "baseline": "bottom", "offset": -16},
                      "data": {"name": "bulk"},
                      "mark": {"type": "bar", "color": "#2d9436", "stroke": "#8a8a8a", "strokeWidth": 0.25, "binSpacing": 0},
                      "encoding": {
                        "x": {"field": "bp", "type": "quantitative", "bin": {"binned": true, "step": 50}, "scale": {"domain": [-179, 5343], "nice": false, "zero": false},
                              "axis": {"values": [0, 500, 1000, 1500, 2000, 2500, 3000, 3500, 4000, 4500], "labelExpr": "datum.value % 1000 === 0 ? datum.label : ''", "format": "d", "title": "LD sizes (bp)", "domain": false, "ticks": false, "grid": true, "gridColor": "#e4e4e4", "gridWidth": {"condition": {"test": "datum.value % 1000 === 0", "value": 0.9}, "value": 0.45}, "labelColor": "#555", "labelFontSize": 8.5, "labelPadding": 2, "titleFontSize": 11.5, "titleFontWeight": "bold", "titleColor": "#111", "titlePadding": 2}},
                        "y": {"field": "f", "type": "quantitative", "scale": {"domain": [-0.0041, 0.1095], "nice": false, "zero": false},
                              "axis": {"values": [0, 0.0125, 0.025, 0.0375, 0.05, 0.0625, 0.075, 0.0875, 0.1], "labelExpr": "abs(datum.value / 0.025 - round(datum.value / 0.025)) < 0.01 ? datum.label : ''", "format": ".3f", "title": "Relative frequency", "titleX": -24, "titleY": 46, "titleBaseline": "middle", "domain": false, "ticks": false, "grid": true, "gridColor": "#e4e4e4", "gridWidth": {"condition": {"test": "abs(datum.value / 0.025 - round(datum.value / 0.025)) < 0.01", "value": 0.9}, "value": 0.45}, "labelColor": "#555", "labelFontSize": 8.5, "labelPadding": 2, "titleFontSize": 11.5, "titleFontWeight": "bold", "titleColor": "#111"}}
                      }
                    }
                  ]
                },
                {
                  "title": {"text": "F", "dx": -24, "offset": -11.85},
                  "vconcat": [
                    {
                      "width": 200,
                      "height": 84,
                      "title": {"text": "GFPʰⁱᵍʰ BFPʰⁱᵍʰ", "anchor": "middle", "fontSize": 11, "fontWeight": "bold", "baseline": "bottom", "offset": -16},
                      "data": {"name": "hh"},
                      "mark": {"type": "bar", "color": "#2d9436", "stroke": "#8a8a8a", "strokeWidth": 0.25, "binSpacing": 0},
                      "encoding": {
                        "x": {"field": "bp", "type": "quantitative", "bin": {"binned": true, "step": 50}, "scale": {"domain": [-170, 5420], "nice": false, "zero": false},
                              "axis": {"values": [0, 500, 1000, 1500, 2000, 2500, 3000, 3500, 4000, 4500, 5000], "labelExpr": "datum.value % 1000 === 0 ? datum.label : ''", "format": "d", "title": "LD sizes (bp)", "domain": false, "ticks": false, "grid": true, "gridColor": "#e4e4e4", "gridWidth": {"condition": {"test": "datum.value % 1000 === 0", "value": 0.9}, "value": 0.45}, "labelColor": "#555", "labelFontSize": 8.5, "labelPadding": 2, "titleFontSize": 11.5, "titleFontWeight": "bold", "titleColor": "#111", "titlePadding": 2}},
                        "y": {"field": "f", "type": "quantitative", "scale": {"domain": [-0.01, 0.27], "nice": false, "zero": false},
                              "axis": {"values": [0, 0.05, 0.1, 0.15, 0.2, 0.25], "labelExpr": "abs(datum.value / 0.1 - round(datum.value / 0.1)) < 0.01 ? datum.label : ''", "format": ".1f", "title": "Relative frequency", "titleX": -17, "titleY": 46, "titleBaseline": "middle", "domain": false, "ticks": false, "grid": true, "gridColor": "#e4e4e4", "gridWidth": {"condition": {"test": "abs(datum.value / 0.1 - round(datum.value / 0.1)) < 0.01", "value": 0.9}, "value": 0.45}, "labelColor": "#555", "labelFontSize": 8.5, "labelPadding": 2, "titleFontSize": 11.5, "titleFontWeight": "bold", "titleColor": "#111"}}
                      }
                    }
                  ]
                }
              ]
            },
            {
              "spacing": 13,
              "hconcat": [
                {
                  "title": {"text": "G", "dx": -30, "offset": -9.85},
                  "vconcat": [
                    {
                      "width": 185,
                      "height": 90,
                      "title": {"text": "GFPᵈⁱᵐ BFPᵐᵉᵈ", "anchor": "middle", "fontSize": 11, "fontWeight": "bold", "baseline": "bottom", "offset": -9.5},
                      "data": {"name": "dm"},
                      "mark": {"type": "bar", "color": "#2d9436", "stroke": "#8a8a8a", "strokeWidth": 0.25, "binSpacing": 0},
                      "encoding": {
                        "x": {"field": "bp", "type": "quantitative", "bin": {"binned": true, "step": 50}, "scale": {"domain": [-190, 5150], "nice": false, "zero": false},
                              "axis": {"values": [0, 500, 1000, 1500, 2000, 2500, 3000, 3500, 4000, 4500, 5000], "labelExpr": "datum.value % 1000 === 0 ? datum.label : ''", "format": "d", "title": "LD sizes (bp)", "domain": false, "ticks": false, "grid": true, "gridColor": "#e4e4e4", "gridWidth": {"condition": {"test": "datum.value % 1000 === 0", "value": 0.9}, "value": 0.45}, "labelColor": "#555", "labelFontSize": 8.5, "labelPadding": 1, "titleFontSize": 11.5, "titleFontWeight": "bold", "titleColor": "#111", "titlePadding": 1}},
                        "y": {"field": "f", "type": "quantitative", "scale": {"domain": [-0.0021, 0.0903], "nice": false, "zero": false},
                              "axis": {"values": [0, 0.01, 0.02, 0.03, 0.04, 0.05, 0.06, 0.07, 0.08, 0.09], "labelExpr": "abs(datum.value / 0.02 - round(datum.value / 0.02)) < 0.01 ? datum.label : ''", "format": ".2f", "title": "Relative frequency", "titleX": -24, "titleY": 46, "titleBaseline": "middle", "domain": false, "ticks": false, "grid": true, "gridColor": "#e4e4e4", "gridWidth": {"condition": {"test": "abs(datum.value / 0.02 - round(datum.value / 0.02)) < 0.01", "value": 0.9}, "value": 0.45}, "labelColor": "#555", "labelFontSize": 8.5, "labelPadding": 2, "titleFontSize": 11.5, "titleFontWeight": "bold", "titleColor": "#111"}}
                      }
                    }
                  ]
                },
                {
                  "title": {"text": "H", "dx": -22, "offset": -9.85},
                  "vconcat": [
                    {
                      "width": 200,
                      "height": 90,
                      "title": {"text": "GFPⁿᵉᵍ BFPᵐᵉᵈ", "anchor": "middle", "fontSize": 11, "fontWeight": "bold", "baseline": "bottom", "offset": -9.5},
                      "data": {"name": "nm"},
                      "mark": {"type": "bar", "color": "#2d9436", "stroke": "#8a8a8a", "strokeWidth": 0.25, "binSpacing": 0},
                      "encoding": {
                        "x": {"field": "bp", "type": "quantitative", "bin": {"binned": true, "step": 50}, "scale": {"domain": [-100, 5400], "nice": false, "zero": false},
                              "axis": {"values": [0, 500, 1000, 1500, 2000, 2500, 3000, 3500, 4000, 4500, 5000], "labelExpr": "datum.value % 1000 === 0 ? datum.label : ''", "format": "d", "title": "LD sizes (bp)", "domain": false, "ticks": false, "grid": true, "gridColor": "#e4e4e4", "gridWidth": {"condition": {"test": "datum.value % 1000 === 0", "value": 0.9}, "value": 0.45}, "labelColor": "#555", "labelFontSize": 8.5, "labelPadding": 1, "titleFontSize": 11.5, "titleFontWeight": "bold", "titleColor": "#111", "titlePadding": 1}},
                        "y": {"field": "f", "type": "quantitative", "scale": {"domain": [-0.0015, 0.0677], "nice": false, "zero": false},
                              "axis": {"values": [0, 0.01, 0.02, 0.03, 0.04, 0.05, 0.06], "labelExpr": "abs(datum.value / 0.02 - round(datum.value / 0.02)) < 0.01 ? datum.label : ''", "format": ".2f", "title": "Relative frequency", "titleX": -17, "titleY": 46, "titleBaseline": "middle", "domain": false, "ticks": false, "grid": true, "gridColor": "#e4e4e4", "gridWidth": {"condition": {"test": "abs(datum.value / 0.02 - round(datum.value / 0.02)) < 0.01", "value": 0.9}, "value": 0.45}, "labelColor": "#555", "labelFontSize": 8.5, "labelPadding": 2, "titleFontSize": 11.5, "titleFontWeight": "bold", "titleColor": "#111"}}
                      }
                    }
                  ]
                }
              ]
            }
          ]
        },
        {
          "width": 204,
          "height": 232,
          "title": {"text": "I", "dx": -49, "offset": 6.2},
          "view": {"stroke": "#2b2b2b", "strokeWidth": 1.3},
          "data": {"name": "grid"},
          "encoding": {
            "x": {"field": "col", "type": "nominal", "sort": null, "scale": {"domain": ["BFPⁿᵉᵍ", "BFPˡᵒʷ", "BFPᵐᵉᵈ", "BFPʰⁱᵍʰ"], "paddingInner": 0.204, "paddingOuter": 0.18},
                  "axis": {"title": null, "orient": "bottom", "domain": false, "ticks": false, "labelFontSize": 15, "labelFontWeight": "bold", "labelPadding": 3, "labelColor": "#222", "labelAngle": 0}},
            "y": {"field": "row", "type": "nominal", "sort": null, "scale": {"domain": ["GFPʰⁱᵍʰ", "GFPᵐᵉᵈ", "GFPˡᵒʷ", "GFPᵈⁱᵐ", "GFPⁿᵉᵍ"], "paddingInner": 0.18, "paddingOuter": 0.085},
                  "axis": {"title": null, "domain": false, "ticks": false, "labelFontSize": 13, "labelFontWeight": "bold", "labelPadding": 4, "labelColor": "#222"}}
          },
          "layer": [
            {
              "mark": {"type": "rect", "stroke": "#555", "strokeWidth": 0.8},
              "encoding": {"fill": {"field": "col", "type": "nominal", "scale": {"domain": ["BFPⁿᵉᵍ", "BFPˡᵒʷ", "BFPᵐᵉᵈ", "BFPʰⁱᵍʰ"], "range": ["#ffffff", "#c5e6f8", "#5aa6dc", "#1f72bd"]}, "legend": null}}
            },
            {
              "mark": {"type": "point", "shape": "M-1,-0.975L1,-0.975L-1,0.975Z", "size": 1521, "filled": true, "opacity": 1, "stroke": "#555", "strokeWidth": 0.8},
              "encoding": {"color": {"field": "row", "type": "nominal", "scale": {"domain": ["GFPʰⁱᵍʰ", "GFPᵐᵉᵈ", "GFPˡᵒʷ", "GFPᵈⁱᵐ", "GFPⁿᵉᵍ"], "range": ["#0a9447", "#5fb64f", "#a8d59d", "#cfe9d6", "#ffffff"]}, "legend": null}}
            },
            {
              "mark": {"type": "text", "align": "left", "baseline": "top", "dx": -16, "dy": -16, "fontSize": 8, "fontWeight": "bold", "lineBreak": "\n", "lineHeight": 9.5},
              "encoding": {"text": {"field": "tl"}, "color": {"condition": {"test": "datum.tl === 'IN'", "value": "#ffffff"}, "value": "#222222"}}
            },
            {
              "transform": [{"filter": "datum.col !== 'BFPⁿᵉᵍ'"}],
              "mark": {"type": "text", "align": "right", "baseline": "alphabetic", "dx": 17, "dy": 15, "fontSize": 8, "fontWeight": "bold"},
              "encoding": {"text": {"field": "br"}, "color": {"condition": {"test": "datum.br === 'IN'", "value": "#ffffff"}, "value": "#222222"}}
            },
            {
              "transform": [{"filter": "datum.col === 'BFPⁿᵉᵍ'"}],
              "mark": {"type": "text", "align": "left", "baseline": "bottom", "dx": 2, "dy": 7.5, "fontSize": 8, "fontWeight": "bold", "lineBreak": "\n", "lineHeight": 9.5, "color": "#222222"},
              "encoding": {"text": {"field": "br"}}
            }
          ]
        }
      ]
    }
  ]
}
